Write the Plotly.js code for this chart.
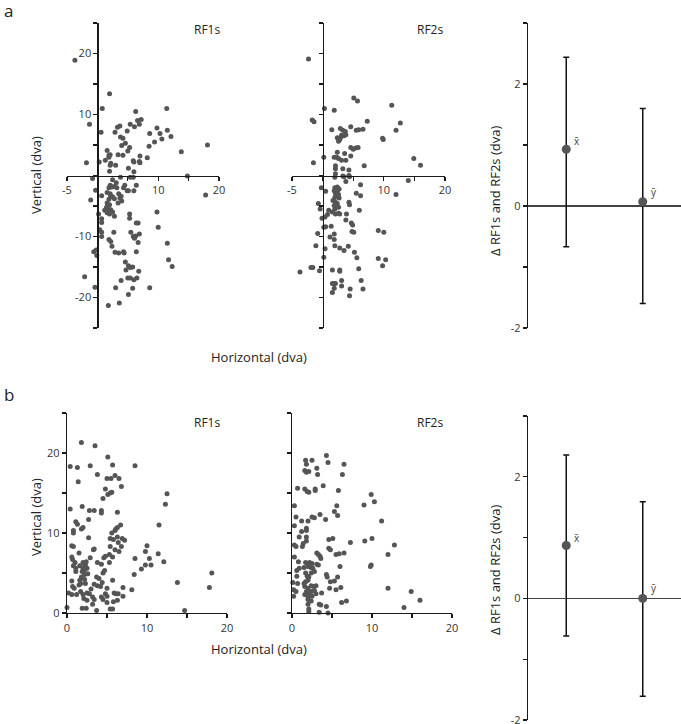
<!DOCTYPE html>
<html>
<head>
<meta charset="utf-8">
<script src="https://cdn.plot.ly/plotly-3.0.1.min.js"></script>
<style>html,body{margin:0;padding:0;background:#fff;}#chart{width:681px;height:724px;}</style>
</head>
<body>
<div id="chart"></div>
<script>
// ---------- DATA ----------
// Panel a, RF1s (horizontal, vertical in dva)
const aRF1x = [-3.7,2.0,0.8,-1.3,0.6,-1.8,0.3,1.3,1.6,1.9,2.1,1.9,2.1,2.2,2.0,3.0,2.9,3.3,3.7,3.8,4.2,4.0,3.4,4.2,4.6,4.9,5.3,5.0,5.4,6.1,6.3,6.6,7.2,6.9,5.1,5.9,6.0,6.0,7.0,6.9,7.0,8.2,8.5,8.6,9.4,9.8,10.3,10.6,11.4,11.5,12.1,13.8,18.1,
 -0.8,-0.3,-1.1,0.7,0.2,0.7,0.7,0.4,0.7,0.7,-0.6,-0.2,-0.1,-2.1,-0.4,
 1.9,2.1,2.5,2.4,2.8,3.1,3.2,1.6,2.1,2.2,1.9,1.6,2.0,1.5,1.8,2.2,1.2,1.6,2.1,2.5,2.0,2.8,2.5,2.8,3.5,3.7,3.9,4.0,3.4,4.3,4.5,4.9,5.1,6.0,6.4,3.8,5.4,5.9,5.3,5.3,6.4,6.7,2.7,5.5,5.9,6.1,6.3,6.9,6.7,1.9,2.2,2.4,2.9,3.5,4.3,4.4,6.4,4.6,5.1,5.4,5.8,4.7,6.8,3.9,5.0,5.4,6.0,6.5,3.0,5.8,5.1,8.6,1.8,3.6,9.8,10.0,11.5,11.7,12.3,17.8,14.8];
const aRF1y = [18.9,13.4,11.0,8.4,7.1,2.1,2.2,2.5,4.1,3.3,3.4,3.0,1.7,2.0,0.7,1.7,7.1,7.9,8.1,6.3,6.1,4.9,3.4,3.3,5.3,7.3,4.6,4.0,8.4,8.0,10.5,9.0,9.2,8.4,1.2,2.4,2.2,0.6,3.2,2.3,2.1,2.9,4.8,6.9,5.5,7.8,6.9,6.0,11.0,7.4,6.4,3.9,5.0,
 -0.5,-2.4,-4.0,-3.3,-6.3,-7.1,-7.7,-8.9,-9.3,-10.0,-12.5,-12.2,-13.1,-16.6,-18.3,
 -2.0,-1.6,-0.7,-1.9,-1.8,-1.2,-2.0,-2.8,-3.0,-3.4,-3.9,-4.5,-4.8,-5.2,-5.5,-5.6,-5.7,-6.1,-6.0,-6.0,-6.3,-6.7,-3.5,-3.8,-3.0,-3.7,-3.4,-4.2,-4.5,-2.0,-1.6,-2.5,-2.5,-2.5,-1.6,-0.3,-0.3,-0.3,-6.3,-7.0,-7.8,-7.8,-9.3,-9.3,-10.0,-10.3,-9.9,-9.6,-11.0,-10.5,-10.8,-11.6,-12.6,-12.7,-12.5,-12.7,-12.5,-14.2,-14.8,-15.1,-15.0,-15.5,-15.7,-17.2,-16.8,-16.8,-17.1,-16.8,-18.4,-18.5,-19.5,-18.4,-21.3,-20.9,-6.0,-8.5,-11.1,-13.8,-14.9,-3.2,-0.1];

// Panel a, RF2s
const aRF2x = [-2.3,0.3,1.9,5.1,5.7,-1.7,-1.4,11.3,12.7,12.0,7.3,1.5,2.9,3.3,3.7,3.8,3.5,3.1,4.6,5.5,5.9,6.6,2.4,2.8,2.6,3.0,9.8,9.9,4.6,5.0,5.4,5.8,2.4,3.6,4.6,0.2,1.9,2.3,2.6,3.1,3.8,-1.5,2.1,3.3,4.3,6.8,14.9,16.0,2.1,2.1,3.3,4.3,
 -0.2,0.5,-0.7,-0.4,-0.1,0.4,0.2,0.5,-0.8,-1.1,0.4,0.2,-3.7,-1.9,-1.6,-0.5,2.0,3.5,4.4,3.8,2.0,2.4,2.7,1.9,2.4,2.1,2.6,2.0,2.7,1.7,2.1,2.4,1.9,2.6,2.0,1.6,2.1,2.6,2.8,1.0,0.8,3.9,3.8,4.3,4.4,6.2,5.5,6.2,6.0,4.7,4.9,4.8,5.1,1.4,1.2,1.9,1.9,2.0,2.8,3.5,4.2,5.2,5.6,5.9,1.6,2.8,2.8,1.6,1.9,2.1,3.1,3.1,1.9,1.6,4.5,4.4,6.3,6.6,9.1,10.0,9.1,10.3,9.8,12.0,14.0];
const aRF2y = [19.1,11.0,10.7,12.7,12.2,9.1,8.8,11.5,8.6,7.4,8.9,7.5,7.7,7.4,7.2,6.7,6.5,6.6,8.0,7.4,7.5,7.6,6.2,5.9,5.6,6.3,6.1,5.9,4.6,4.3,4.5,4.6,3.8,3.6,3.2,3.0,3.0,3.0,2.8,2.5,2.5,2.1,1.6,1.1,0.9,1.6,2.8,1.7,1.1,0.3,-0.1,0.0,
 -2.0,-2.6,-4.6,-5.5,-7.0,-6.8,-8.5,-8.4,-9.5,-11.5,-12.0,-13.4,-15.8,-15.1,-15.1,-15.6,-0.3,-0.2,-0.2,-1.0,-2.0,-1.9,-2.2,-2.5,-2.6,-3.0,-3.1,-3.6,-3.7,-4.1,-4.4,-4.6,-4.9,-5.2,-5.5,-6.0,-6.3,-6.2,-6.3,-5.7,-6.4,-6.3,-7.3,-4.4,-4.8,-1.5,-2.9,-3.3,-5.7,-7.8,-8.1,-9.2,-9.3,-8.3,-10.1,-9.6,-10.5,-11.5,-11.9,-12.3,-11.6,-12.6,-13.5,-15.3,-15.5,-15.5,-15.7,-17.7,-17.7,-17.7,-17.2,-18.1,-18.5,-19.2,-18.6,-19.7,-17.2,-18.6,-9.0,-9.3,-13.6,-13.8,-14.8,-3.1,-0.8];

// Panel b, RF1s
const bRF1x = [1.8,3.5,0.4,1.3,2.9,5.1,5.7,8.5,3.8,1.4,5.0,5.5,6.0,6.5,6.8,4.8,5.4,5.6,5.1,4.5,12.5,12.3,0.4,1.9,2.8,3.4,4.3,4.3,6.3,2.7,11.5,1.1,1.3,0.8,0.8,1.8,2.0,6.7,6.1,6.3,6.0,5.6,5.8,6.3,6.4,6.9,7.2,6.8,6.5,5.4,5.4,6.0,2.7,0.6,0.8,1.5,3.4,3.3,5.3,5.7,4.8,0.6,0.7,1.0,1.6,2.0,2.1,2.3,2.4,2.5,2.0,2.2,2.9,4.6,5.3,3.8,4.3,0.8,1.1,1.1,1.9,2.2,1.8,2.6,1.6,2.2,1.5,1.7,2.3,0.6,0.7,0.9,3.7,4.0,4.5,4.7,4.4,3.8,3.4,3.0,4.2,5.0,5.7,1.7,2.0,2.5,2.8,2.1,2.5,0.2,0.6,1.2,3.2,3.4,4.3,4.5,4.8,5.9,6.1,6.4,5.0,5.0,6.3,7.0,7.0,8.1,8.4,9.3,9.8,10.5,10.3,9.8,10.0,11.4,12.1,8.5,13.8,18.1,17.8,14.7,0.0,1.9,2.4,3.2,3.7,5.4,5.7,5.8];
const bRF1y = [21.3,20.9,18.3,18.2,18.4,19.5,18.5,18.4,17.3,16.4,16.8,16.8,17.2,16.8,15.8,15.5,15.0,15.1,14.8,14.3,14.9,13.6,13.0,13.3,12.8,12.8,12.8,12.5,12.6,11.7,11.0,11.4,11.1,10.3,10.0,10.5,10.7,11.0,10.5,10.7,10.3,10.0,9.2,9.5,8.8,9.3,9.1,8.3,7.7,9.3,8.3,7.9,9.4,8.4,8.3,7.5,8.0,7.9,7.3,7.0,7.1,7.0,6.7,6.3,5.9,6.3,6.2,6.0,6.4,5.6,5.6,5.4,6.9,6.9,6.3,6.3,6.1,5.9,5.6,5.2,5.2,4.8,4.5,4.9,4.1,4.2,3.5,3.7,3.7,4.0,3.3,3.1,4.5,4.3,5.0,5.3,3.8,3.4,3.6,3.0,3.3,3.1,4.1,2.7,2.3,2.5,2.4,1.8,1.6,2.5,2.3,2.3,2.0,1.7,2.0,1.7,2.4,2.5,2.4,2.4,2.1,1.3,1.6,2.1,3.2,2.9,4.8,5.5,6.0,6.0,6.8,7.7,8.4,7.4,6.4,6.8,3.8,5.0,3.2,0.3,0.7,0.6,0.6,1.1,0.3,0.5,0.5,1.4];

// Panel b, RF2s
const bRF2x = [4.3,1.7,2.5,1.8,4.5,6.5,3.1,1.6,1.8,2.1,3.2,6.3,0.7,1.6,2.9,2.9,3.9,1.9,2.1,5.8,9.9,10.3,9.0,0.3,5.6,5.3,5.7,3.5,2.5,2.8,4.2,0.5,1.2,2.0,11.2,0.3,1.2,1.8,1.8,0.9,1.8,1.8,1.4,1.3,0.3,0.5,4.6,5.1,7.3,9.1,10.0,12.8,12.0,4.6,4.8,5.5,5.9,6.5,0.3,0.8,1.7,2.0,2.2,2.5,3.1,3.3,3.5,3.6,3.1,3.3,1.5,2.0,2.4,2.6,0.9,0.6,0.6,1.7,1.9,2.1,2.4,2.8,6.0,5.7,4.3,4.4,5.3,4.8,9.9,9.8,0.1,0.7,1.5,1.7,2.0,1.6,2.0,2.4,2.7,3.0,0.2,0.5,1.8,2.1,2.4,2.8,1.6,2.0,2.5,3.0,3.7,4.7,5.5,6.1,0.2,2.0,2.4,2.0,3.4,3.6,4.3,2.1,2.1,3.4,4.5,6.2,6.8,12.0,14.9,16.0,14.0];
const bRF2y = [19.7,19.1,19.1,18.6,18.8,18.6,18.1,17.8,17.6,17.7,17.3,17.3,15.6,15.5,15.5,15.3,15.9,15.2,15.1,15.3,14.8,13.9,13.5,13.4,13.4,12.7,12.2,12.3,12.0,11.9,11.7,12.0,11.5,11.5,11.5,10.9,10.2,10.6,10.3,9.5,9.5,9.0,8.7,8.3,8.5,8.3,9.2,9.3,8.8,9.0,9.3,8.5,7.3,8.1,7.9,7.3,7.4,7.5,7.0,6.4,6.3,6.1,6.3,6.2,7.5,7.3,7.1,6.8,6.1,6.0,5.7,5.8,5.7,5.6,5.6,5.3,4.6,5.0,4.6,4.5,5.0,5.2,5.8,4.5,4.8,4.5,4.0,3.9,6.0,5.8,3.8,3.7,3.7,3.9,4.1,3.3,3.1,3.4,3.3,3.4,2.9,2.7,2.7,2.5,2.7,2.8,2.3,2.0,2.1,2.4,2.5,3.1,2.9,3.2,2.1,1.7,1.5,1.1,1.1,1.0,0.8,0.5,0.2,0.1,0.0,1.3,1.5,3.1,2.7,1.6,0.7];

// Right-hand panels: mean difference with error bars
const diffLabels = ['x\u0304', 'y\u0304'];
const aDiffMean = [0.93, 0.07];
const aDiffPlus = [1.51, 1.53];
const aDiffMinus = [1.60, 1.67];
const bDiffMean = [0.87, 0.0];
const bDiffPlus = [1.49, 1.59];
const bDiffMinus = [1.49, 1.61];
const diffX = [1, 2];

// ---------- LAYOUT ----------
const W = 681, H = 724;
const hd = (p0, p1) => [p0 / W, p1 / W];
const vd = (top, bot) => [1 - bot / H, 1 - top / H];
const FONT = 'Open Sans, sans-serif';
const AX = '#1a1a1a';
const tickFont = {family: FONT, size: 11, color: '#333'};
const MC = 'rgb(85,85,85)';

function scatter(x, y, xa, ya) {
  return {x: x, y: y, xaxis: xa, yaxis: ya, type: 'scatter', mode: 'markers',
    marker: {size: 5, color: MC}, hoverinfo: 'skip', showlegend: false, cliponaxis: false};
}
function diffTrace(mean, plus, minus, xa, ya) {
  return {x: diffX, y: mean, xaxis: xa, yaxis: ya, type: 'scatter', mode: 'markers',
    marker: {size: 9, color: MC},
    error_y: {type: 'data', symmetric: false, array: plus, arrayminus: minus, color: '#111', thickness: 1.5, width: 3},
    showlegend: false, hoverinfo: 'skip', cliponaxis: false};
}

const baseAx = {showgrid: false, zeroline: false, showline: true, linecolor: AX, linewidth: 1.3,
  ticks: 'outside', ticklen: 4, tickwidth: 1.2, tickcolor: AX, tickfont: tickFont, fixedrange: true,
  ticklabeloverflow: 'allow'};

const aXticks = {tickmode: 'array', tickvals: [-5, 0, 5, 10, 15, 20], ticktext: ['-5', '', '', '10', '', '20']};
const aYticks = {tickmode: 'array', tickvals: [-25, -20, -15, -10, -5, 0, 5, 10, 15, 20, 25],
  ticktext: ['', '-20', '', '-10', '', '', '', '10', '', '20', '']};
const bXticks = {tickmode: 'array', tickvals: [0, 5, 10, 15, 20], ticktext: ['0', '', '10', '', '20']};
const bYticks = {tickmode: 'array', tickvals: [0, 5, 10, 15, 20, 25], ticktext: ['0', '', '10', '', '20', '']};
const dYticks = {tickmode: 'array', tickvals: [-2, -1, 0, 1, 2, 3], ticktext: ['-2', '', '0', '', '2', '']};
const noTxt = (t) => Object.assign({}, t, {ticktext: t.ticktext.map(() => '')});

// pixel geometry
const aTop = 23, aBot = 328;
const aZeroY = aTop + (aBot - aTop) * 25 / 50;     // y=0 line
const a1L = 67, a1R = 219, a2L = 292, a2R = 445;
const a1Zero = a1L + (a1R - a1L) * 5 / 25, a2Zero = a2L + (a2R - a2L) * 5 / 25;

const layout = {
  width: W, height: H, margin: {l: 0, r: 0, t: 0, b: 0},
  paper_bgcolor: '#fff', plot_bgcolor: 'rgba(0,0,0,0)', font: {family: FONT, color: '#222'},
  showlegend: false,
  // a RF1s
  xaxis: Object.assign({}, baseAx, aXticks, {domain: hd(a1L, a1R), range: [-5, 20], anchor: 'free', position: 1 - aZeroY / H}),
  yaxis: Object.assign({}, baseAx, aYticks, {domain: vd(aTop, aBot), range: [-25, 25], anchor: 'free', position: a1Zero / W}),
  // a RF2s
  xaxis2: Object.assign({}, baseAx, aXticks, {domain: hd(a2L, a2R), range: [-5, 20], anchor: 'free', position: 1 - aZeroY / H}),
  yaxis2: Object.assign({}, baseAx, noTxt(aYticks), {domain: vd(aTop, aBot), range: [-25, 25], anchor: 'free', position: a2Zero / W}),
  // a diff
  xaxis3: {domain: hd(528, 681), range: [0.5, 2.5], anchor: 'y3', showline: false, showticklabels: false, ticks: '', showgrid: false, zeroline: false, fixedrange: true},
  yaxis3: Object.assign({}, baseAx, dYticks, {domain: vd(aTop, aBot), range: [-2, 3], anchor: 'x3',
    zeroline: true, zerolinecolor: '#444', zerolinewidth: 1.5}),
  // b RF1s
  xaxis4: Object.assign({}, baseAx, bXticks, {domain: hd(67, 227), range: [0, 20], anchor: 'y4'}),
  yaxis4: Object.assign({}, baseAx, bYticks, {domain: vd(413, 613), range: [0, 25], anchor: 'x4'}),
  // b RF2s
  xaxis5: Object.assign({}, baseAx, bXticks, {domain: hd(292, 452), range: [0, 20], anchor: 'y5'}),
  yaxis5: Object.assign({}, baseAx, noTxt(bYticks), {domain: vd(413, 613), range: [0, 25], anchor: 'x5'}),
  // b diff
  xaxis6: {domain: hd(528, 681), range: [0.5, 2.5], anchor: 'y6', showline: false, showticklabels: false, ticks: '', showgrid: false, zeroline: false, fixedrange: true},
  yaxis6: Object.assign({}, baseAx, dYticks, {domain: vd(416, 720), range: [-2, 3], anchor: 'x6',
    zeroline: true, zerolinecolor: '#444', zerolinewidth: 1.5}),
  annotations: []
};

function pText(text, px, py, size, opts) {
  layout.annotations.push(Object.assign({text: text, xref: 'paper', yref: 'paper', x: px / W, y: 1 - py / H,
    showarrow: false, xanchor: 'center', yanchor: 'middle', font: {family: FONT, size: size, color: '#222'}}, opts || {}));
}
pText('a', 2, 10, 17, {xanchor: 'left'});
pText('b', 2, 394, 17, {xanchor: 'left'});
pText('RF1s', 207, 30, 12);
pText('RF2s', 430, 30, 12);
pText('RF1s', 207, 422, 12);
pText('RF2s', 430, 422, 12);
pText('Vertical (dva)', 36, 175, 13, {textangle: -90});
pText('Vertical (dva)', 36, 517, 13, {textangle: -90});
pText('Horizontal (dva)', 259, 357, 13);
pText('Horizontal (dva)', 259, 649, 13);
pText('\u0394 RF1s and RF2s (dva)', 495, 191, 13, {textangle: -90});
pText('\u0394 RF1s and RF2s (dva)', 495, 570, 13, {textangle: -90});

function diffLabel(xa, ya, means) {
  means.forEach((m, i) => {
    layout.annotations.push({text: diffLabels[i], xref: xa, yref: ya, x: diffX[i], y: m, showarrow: false,
      xanchor: 'left', yanchor: 'middle', xshift: 6, yshift: i === 0 ? 8 : 10,
      font: {family: FONT, size: 10, color: '#444'}});
  });
}
diffLabel('x3', 'y3', aDiffMean);
diffLabel('x6', 'y6', bDiffMean);

const data = [
  scatter(aRF1x, aRF1y, 'x', 'y'),
  scatter(aRF2x, aRF2y, 'x2', 'y2'),
  diffTrace(aDiffMean, aDiffPlus, aDiffMinus, 'x3', 'y3'),
  scatter(bRF1x, bRF1y, 'x4', 'y4'),
  scatter(bRF2x, bRF2y, 'x5', 'y5'),
  diffTrace(bDiffMean, bDiffPlus, bDiffMinus, 'x6', 'y6')
];

Plotly.newPlot('chart', data, layout, {staticPlot: true, displayModeBar: false});
</script>
</body>
</html>
